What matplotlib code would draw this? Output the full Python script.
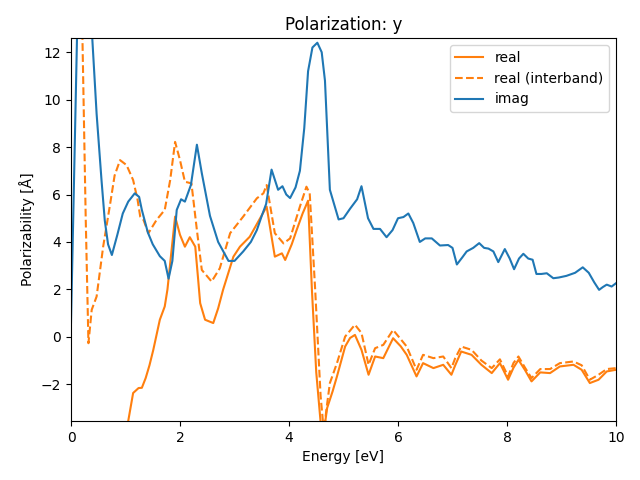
import numpy as np
import matplotlib
matplotlib.use('Agg')
import matplotlib.pyplot as plt

# energies [eV] and polarizability [A]
e_imag = [0.0, 0.05, 0.11, 0.18, 0.25, 0.32, 0.39, 0.47, 0.56, 0.62, 0.68, 0.75,
          0.85, 0.95, 1.05, 1.17, 1.25, 1.30, 1.41, 1.50, 1.63, 1.72, 1.79, 1.86,
          1.94, 2.02, 2.09, 2.20, 2.31, 2.40, 2.55, 2.70, 2.89, 3.00, 3.16, 3.30,
          3.41, 3.50, 3.58, 3.68, 3.80, 3.88, 3.95, 4.02, 4.12, 4.20, 4.28, 4.35,
          4.43, 4.52, 4.60, 4.66, 4.75, 4.91, 5.00, 5.12, 5.25, 5.33, 5.45, 5.55,
          5.67, 5.79, 5.90, 6.00, 6.10, 6.19, 6.28, 6.40, 6.50, 6.62, 6.77, 6.92,
          7.00, 7.08, 7.18, 7.26, 7.38, 7.49, 7.58, 7.66, 7.75, 7.84, 7.96, 8.05,
          8.13, 8.22, 8.30, 8.39, 8.47, 8.54, 8.63, 8.73, 8.85, 8.95, 9.09, 9.25,
          9.39, 9.50, 9.60, 9.69, 9.76, 9.83, 9.92, 10.0]
imag = [0.6, 6.0, 12.6, 20.0, 22.0, 18.0, 12.6, 9.4, 6.6, 4.9, 3.9, 3.45,
        4.3, 5.2, 5.7, 6.05, 5.9, 5.35, 4.4, 3.9, 3.4, 3.2, 2.45, 3.2,
        5.35, 5.8, 5.7, 6.4, 8.1, 6.9, 5.1, 4.0, 3.2, 3.2, 3.6, 4.0,
        4.5, 5.1, 5.6, 7.05, 6.2, 6.35, 6.0, 5.85, 6.3, 7.0, 8.8, 11.2,
        12.2, 12.4, 12.0, 10.8, 6.2, 4.95, 5.0, 5.4, 5.8, 6.35, 5.0, 4.55,
        4.55, 4.2, 4.5, 5.0, 5.05, 5.2, 4.8, 4.0, 4.15, 4.15, 3.85, 3.87,
        3.75, 3.05, 3.35, 3.6, 3.75, 3.95, 3.75, 3.72, 3.6, 3.15, 3.7, 3.3,
        2.85, 3.3, 3.5, 3.3, 3.25, 2.65, 2.65, 2.68, 2.47, 2.5, 2.57, 2.7,
        2.93, 2.7, 2.3, 1.98, 2.1, 2.2, 2.12, 2.26]

e_real = [1.00, 1.05, 1.14, 1.24, 1.30, 1.37, 1.44, 1.51, 1.63, 1.72, 1.77,
          1.82, 1.91, 2.00, 2.09, 2.18, 2.28, 2.33, 2.37, 2.46, 2.61, 2.70,
          2.79, 2.98, 3.10, 3.28, 3.47, 3.59, 3.65, 3.74, 3.87, 3.93, 4.05,
          4.14, 4.25, 4.35, 4.42, 4.50, 4.58, 4.64, 4.70, 4.80, 4.88, 5.03,
          5.12, 5.21, 5.33, 5.46, 5.58, 5.73, 5.91, 6.05, 6.16, 6.34, 6.46,
          6.65, 6.83, 6.98, 7.05, 7.16, 7.35, 7.53, 7.72, 7.87, 8.02, 8.12,
          8.21, 8.33, 8.45, 8.61, 8.79, 8.97, 9.22, 9.37, 9.52, 9.68, 9.83, 10.0]
real = [-4.5, -3.55, -2.37, -2.16, -2.15, -1.74, -1.2, -0.55, 0.72, 1.28, 2.0,
        3.1, 5.07, 4.3, 3.8, 4.2, 3.8, 2.5, 1.42, 0.72, 0.58, 1.2,
        1.98, 3.38, 3.8, 4.22, 5.0, 5.49, 4.64, 3.38, 3.52, 3.24, 3.9,
        4.5, 5.2, 5.74, 2.0, -1.5, -3.6, -4.0, -3.0, -2.3, -1.67, -0.41,
        -0.05, 0.08, -0.55, -1.6, -0.83, -0.9, -0.06, -0.4, -0.76, -1.67, -1.11,
        -1.32, -1.18, -1.6, -1.2, -0.62, -0.76, -1.18, -1.53, -1.11, -1.81, -1.3,
        -0.97, -1.4, -1.88, -1.5, -1.53, -1.25, -1.18, -1.39, -1.95, -1.81, -1.46, -1.39]

e_inter = [0.10, 0.21, 0.27, 0.32, 0.38, 0.47, 0.59, 0.72, 0.80, 0.90, 1.02,
           1.14, 1.22, 1.27, 1.33, 1.42, 1.57, 1.72, 1.82, 1.91, 2.00, 2.09,
           2.21, 2.31, 2.40, 2.58, 2.73, 2.92, 3.16, 3.41, 3.53, 3.59, 3.74,
           3.90, 4.02, 4.20, 4.32, 4.38, 4.48, 4.58, 4.64, 4.69, 4.75, 4.88,
           5.03, 5.21, 5.33, 5.46, 5.58, 5.73, 5.91, 6.05, 6.16, 6.34, 6.46,
           6.65, 6.83, 6.98, 7.05, 7.16, 7.35, 7.53, 7.72, 7.87, 8.02, 8.12,
           8.21, 8.33, 8.45, 8.61, 8.79, 8.97, 9.22, 9.37, 9.52, 9.68, 9.83, 10.0]
real_inter = [20.0, 12.6, 5.0, -0.27, 1.14, 1.7, 3.8, 5.63, 6.8, 7.45, 7.24,
              6.61, 5.8, 5.07, 4.93, 4.37, 4.93, 5.35, 6.61, 8.22, 7.45, 6.54,
              6.47, 4.5, 2.82, 2.33, 2.89, 4.37, 5.07, 5.84, 6.05, 6.4, 4.37,
              3.94, 4.15, 5.49, 6.33, 6.05, 2.0, -2.5, -4.0, -3.0, -1.95, -1.11,
              0.01, 0.51, 0.16, -1.18, -0.48, -0.34, 0.29, -0.1, -0.41, -1.39, -0.76,
              -0.9, -0.83, -1.32, -0.9, -0.41, -0.55, -1.0, -1.32, -0.95, -1.67, -1.1,
              -0.83, -1.3, -1.74, -1.36, -1.36, -1.11, -1.04, -1.2, -1.81, -1.6, -1.36, -1.32]

fig, ax = plt.subplots(figsize=(6.4, 4.8), dpi=100)
ax.plot(e_real, real, color='C1', label='real')
ax.plot(e_inter, real_inter, color='C1', ls='--', label='real (interband)')
ax.plot(e_imag, imag, color='C0', label='imag')
ax.set_xlim(0, 10)
ax.set_ylim(-3.55, 12.6)
ax.set_title('Polarization: y')
ax.set_xlabel('Energy [eV]')
ax.set_ylabel('Polarizability [Å]')
ax.legend(loc='upper right')
fig.subplots_adjust(left=71/640, right=616/640, top=1-38/480, bottom=1-421/480)
fig.savefig('out.png')
